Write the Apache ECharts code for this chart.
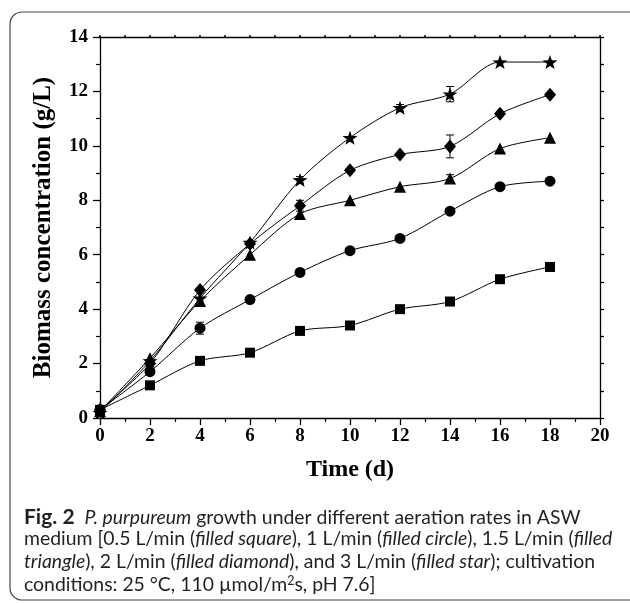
<!DOCTYPE html>
<html>
<head>
<meta charset="utf-8">
<script src="https://cdn.jsdelivr.net/npm/echarts@6/dist/echarts.min.js"></script>
<style>
  html, body { margin: 0; padding: 0; background: #fff; }
  #chart { width: 630px; height: 603px; }
</style>
</head>
<body>
<div id="chart"></div>
<script>
// 数据 (g/L), 每 2 天取样
const days = [0, 2, 4, 6, 8, 10, 12, 14, 16, 18];
const square = [0.3, 1.2, 2.1, 2.4, 3.2, 3.4, 4.0, 4.28, 5.1, 5.55];
const circle = [0.3, 1.7, 3.3, 4.35, 5.35, 6.15, 6.6, 7.6, 8.5, 8.7];
const triangle = [0.25, 2.2, 4.3, 6.0, 7.5, 8.0, 8.5, 8.8, 9.9, 10.3];
const diamond = [0.3, 2.0, 4.7, 6.4, 7.8, 9.1, 9.68, 9.98, 11.18, 11.88];
const star = [0.2, 2.1, 4.4, 6.45, 8.75, 10.3, 11.4, 11.9, 13.08, 13.08];
// 误差棒: [天, 均值, 标准差]
const errorBars = [
    [14, 11.9, 0.28],
    [14, 9.98, 0.42],
    [4, 3.3, 0.22],
    [8, 7.8, 0.2],
    [12, 11.4, 0.12],
    [14, 8.8, 0.14],
    [8, 8.75, 0.12]
];
const xTicks = [0, 2, 4, 6, 8, 10, 12, 14, 16, 18, 20];
const yTicks = [0, 2, 4, 6, 8, 10, 12, 14];

const starPath = 'path://M0,-10L2.35,-3.24L9.51,-3.09L3.8,1.24L5.88,8.09L0,4.2L-5.88,8.09L-3.8,1.24L-9.51,-3.09L-2.35,-3.24Z';

const pair = (arr) => days.map((d, i) => [d, arr[i]]);

const chart = echarts.init(document.getElementById('chart'), null, { renderer: 'canvas' });

const tickFont = {
    fontFamily: 'Liberation Serif',
    fontWeight: 'bold',
    fontSize: 19,
    color: '#000'
};

const lineSeries = (data, symbol, size) => ({
    type: 'line',
    data: pair(data),
    smooth: 0.3,
    symbol: symbol,
    symbolSize: size,
    showAllSymbol: true,
    lineStyle: { color: '#000', width: 1 },
    itemStyle: { color: '#000', borderWidth: 0 },
    z: 3
});

const capText = (y, text) => ({
    type: 'text',
    left: 24,
    top: y,
    style: {
        text: text,
        fontFamily: 'Lato',
        fontSize: 19.4,
        fill: '#231f20',
        rich: {
            b: { fontFamily: 'Lato', fontWeight: 'bold', fontSize: 21, fill: '#231f20' },
            i: { fontFamily: 'Lato', fontStyle: 'italic', fontSize: 19.4, fill: '#231f20' },
            sup: { fontFamily: 'Lato', fontSize: 12.5, fill: '#231f20', padding: [0, 0, 9, 0] }
        }
    }
});

const option = {
    animation: false,
    backgroundColor: '#fff',
    grid: { left: 100, right: 30, top: 37, bottom: 185 },
    xAxis: [
        {
            type: 'value',
            min: 0, max: 20, interval: 2,
            name: 'Time (d)',
            nameLocation: 'middle',
            nameGap: 40,
            nameTextStyle: { fontFamily: 'Liberation Serif', fontWeight: 'bold', fontSize: 24, color: '#000' },
            axisLine: { lineStyle: { color: '#000', width: 1.3 } },
            axisTick: { length: 7, lineStyle: { color: '#000', width: 1.3 } },
            minorTick: { show: true, splitNumber: 2, length: 4, lineStyle: { color: '#000', width: 1.2 } },
            axisLabel: Object.assign({ margin: 9, formatter: (v) => xTicks.includes(v) ? v : '' }, tickFont),
            splitLine: { show: false }
        },
        {
            type: 'value',
            position: 'top',
            min: 0, max: 20, interval: 1,
            axisLine: { show: true, onZero: false, lineStyle: { color: '#000', width: 1.3 } },
            axisTick: { show: true, length: 2, lineStyle: { color: '#000', width: 1.5 } },
            axisLabel: { show: false },
            splitLine: { show: false }
        }
    ],
    yAxis: [
        {
            type: 'value',
            min: 0, max: 14, interval: 2,
            name: 'Biomass concentration (g/L)',
            nameLocation: 'middle',
            nameGap: 44,
            nameTextStyle: { fontFamily: 'Liberation Serif', fontWeight: 'bold', fontSize: 25, color: '#000' },
            axisLine: { show: true, lineStyle: { color: '#000', width: 1.3 } },
            axisTick: { show: true, length: 7, lineStyle: { color: '#000', width: 1.3 } },
            minorTick: { show: true, splitNumber: 2, length: 4, lineStyle: { color: '#000', width: 1.2 } },
            axisLabel: Object.assign({ margin: 12, formatter: (v) => yTicks.includes(v) ? v : '' }, tickFont),
            splitLine: { show: false }
        },
        {
            type: 'value',
            position: 'right',
            min: 0, max: 14, interval: 1,
            axisLine: { show: true, onZero: false, lineStyle: { color: '#000', width: 1.3 } },
            axisTick: { show: true, length: 4, lineStyle: { color: '#000', width: 1.3 } },
            axisLabel: { show: false },
            splitLine: { show: false }
        }
    ],
    series: [
        lineSeries(square, 'rect', 10),
        lineSeries(circle, 'circle', 11),
        lineSeries(triangle, 'triangle', 12),
        lineSeries(diamond, 'diamond', [12, 14]),
        lineSeries(star, starPath, [15, 14]),
        {
            type: 'custom',
            data: errorBars.map((e) => [e[0], e[1] - e[2], e[1] + e[2]]),
            z: 4,
            renderItem: (params, api) => {
                const lo = api.coord([api.value(0), api.value(1)]);
                const hi = api.coord([api.value(0), api.value(2)]);
                const w = 4;
                const st = { stroke: '#000', lineWidth: 1 };
                return {
                    type: 'group',
                    children: [
                        { type: 'line', shape: { x1: lo[0], y1: lo[1], x2: hi[0], y2: hi[1] }, style: st },
                        { type: 'line', shape: { x1: lo[0] - w, y1: lo[1], x2: lo[0] + w, y2: lo[1] }, style: st },
                        { type: 'line', shape: { x1: hi[0] - w, y1: hi[1], x2: hi[0] + w, y2: hi[1] }, style: st }
                    ]
                };
            }
        }
    ],
    graphic: [
        {
            type: 'rect',
            shape: { x: 10, y: 12, width: 660, height: 588, r: 12 },
            style: { fill: 'none', stroke: '#444', lineWidth: 1.2 },
            silent: true
        },
        capText(507, '{b|Fig. 2}  {i|P. purpureum} growth under different aeration rates in ASW'),
        capText(529, 'medium [0.5 L/min ({i|filled square}), 1 L/min ({i|filled circle}), 1.5 L/min ({i|filled}'),
        capText(552, '{i|triangle}), 2 L/min ({i|filled diamond}), and 3 L/min ({i|filled star}); cultivation'),
        capText(574, 'conditions: 25 °C, 110 µmol/m{sup|2}s, pH 7.6]')
    ]
};

chart.setOption(option);
window.addEventListener('resize', chart.resize);
</script>
</body>
</html>
